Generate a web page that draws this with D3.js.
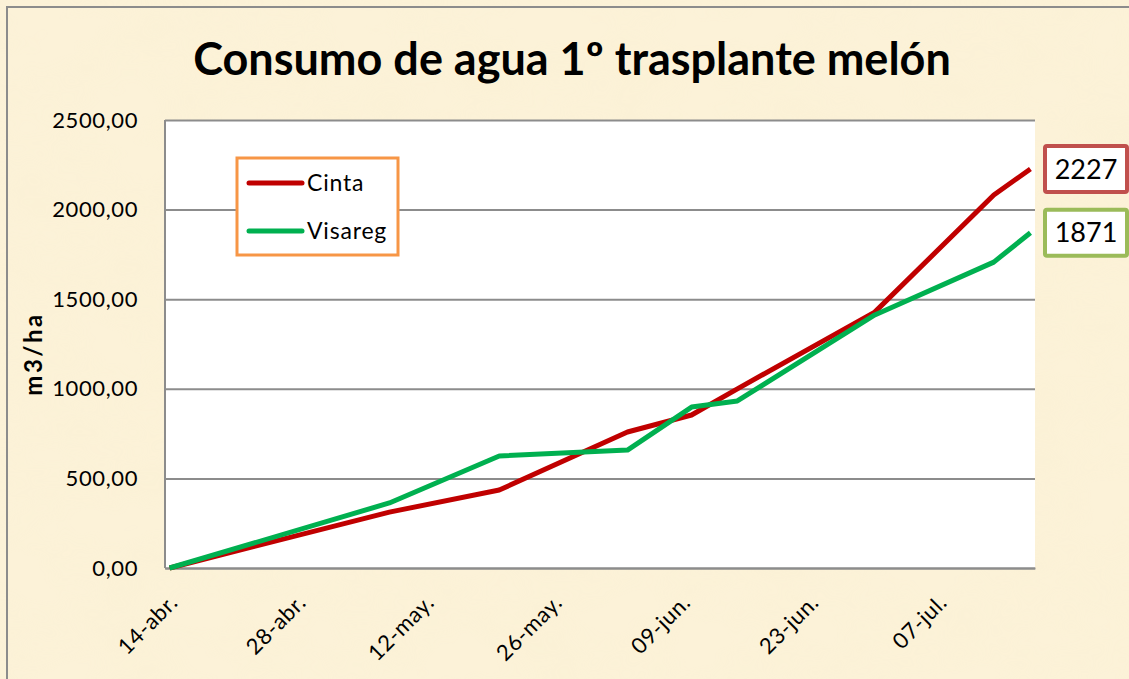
<!DOCTYPE html>
<html>
<head>
<meta charset="utf-8">
<script src="https://cdn.jsdelivr.net/npm/d3@7"></script>
<style>
  body { margin: 0; background: #fbf1d6; }
  text { font-family: Lato, "Liberation Sans", sans-serif; fill: #000; }
</style>
</head>
<body>
<div id="chart"></div>
<script>
// Chart data
var fechas = ["14-04", "08-05", "20-05", "03-06", "10-06", "15-06", "30-06", "13-07", "17-07"];
var cinta = [0, 312, 435, 759, 854, 1000, 1428, 2081, 2227];
var visareg = [0, 363, 625, 658, 898, 932, 1412, 1707, 1871];

var tickFechas = ["14-04", "28-04", "12-05", "26-05", "09-06", "23-06", "07-07"];
var tickLabels = ["14-abr.", "28-abr.", "12-may.", "26-may.", "09-jun.", "23-jun.", "07-jul."];
var yTicks = [0, 500, 1000, 1500, 2000, 2500];

var seriesNames = ["Cinta", "Visareg"];
var seriesColors = ["#c00000", "#00b050"];
var labelBorders = ["#c0504d", "#9bbb59"];

// Set width and height for SVG object
var svgWidth = 1129;
var svgHeight = 679;

var margin = {
  top: 120,
  right: 94,
  bottom: 111,
  left: 165
};

var width = svgWidth - margin.left - margin.right;
var height = svgHeight - margin.top - margin.bottom;

var parseFecha = d3.timeParse("%d-%m");

var svg = d3.select("#chart")
  .append("svg")
  .attr("width", svgWidth)
  .attr("height", svgHeight);

// Parchment background
var defs = svg.append("defs");
var filter = defs.append("filter")
  .attr("id", "paper")
  .attr("x", 0).attr("y", 0).attr("width", "100%").attr("height", "100%");
filter.append("feTurbulence")
  .attr("type", "fractalNoise")
  .attr("baseFrequency", "0.012 0.02")
  .attr("numOctaves", 3)
  .attr("seed", 4)
  .attr("result", "noise");
filter.append("feColorMatrix")
  .attr("type", "matrix")
  .attr("values", "0 0 0 0 0.93  0 0 0 0 0.85  0 0 0 0 0.62  0 0 0 0.55 -0.18");

svg.append("rect")
  .attr("width", svgWidth)
  .attr("height", svgHeight)
  .attr("fill", "#fcf2d8");

svg.append("rect")
  .attr("width", svgWidth)
  .attr("height", svgHeight)
  .attr("filter", "url(#paper)")
  .attr("opacity", 0.6);

// Outer chart border
svg.append("rect")
  .attr("x", 7)
  .attr("y", 7)
  .attr("width", svgWidth + 20)
  .attr("height", svgHeight + 20)
  .attr("fill", "none")
  .attr("stroke", "#8c8c8c")
  .attr("stroke-width", 2);

// Title
svg.append("text")
  .attr("x", 572)
  .attr("y", 75)
  .attr("text-anchor", "middle")
  .attr("font-size", "45px")
  .attr("font-weight", "bold")
  .text("Consumo de agua 1º trasplante melón");

// Y axis title
svg.append("text")
  .attr("transform", "translate(42, 354) rotate(-90)")
  .attr("text-anchor", "middle")
  .attr("font-size", "24px")
  .attr("letter-spacing", "2.5px")
  .attr("font-weight", "bold")
  .text("m3/ha");

var chartGroup = svg.append("g")
  .attr("transform", `translate(${margin.left}, ${margin.top})`);

chartGroup.append("rect")
  .attr("width", width)
  .attr("height", height)
  .attr("fill", "#fff");

// Scales
var start = d3.timeHour.offset(parseFecha(fechas[0]), -12);
var end = d3.timeHour.offset(parseFecha(fechas[fechas.length - 1]), 12);

var xScale = d3.scaleTime()
  .domain([start, end])
  .range([0, width]);

var yScale = d3.scaleLinear()
  .domain([0, 2500])
  .range([height, 0]);

// Gridlines + y labels
var leftAxis = d3.axisLeft(yScale)
  .tickValues(yTicks)
  .tickSize(-width)
  .tickPadding(27)
  .tickFormat(d => d3.format(".2f")(d).replace(".", ","));

var yAxisG = chartGroup.append("g").call(leftAxis);
yAxisG.select(".domain").remove();
yAxisG.selectAll("line")
  .attr("stroke", "#8c8c8c")
  .attr("stroke-width", 2);
yAxisG.selectAll("text")
  .attr("font-size", "22px")
  .attr("letter-spacing", "0.6px")
  .attr("font-family", "Lato, sans-serif")
  .attr("fill", "#000");

// Axis lines
chartGroup.append("line")
  .attr("x1", 0).attr("x2", 0)
  .attr("y1", 0).attr("y2", height)
  .attr("stroke", "#8c8c8c")
  .attr("stroke-width", 2);

// X axis labels
var bottomAxis = d3.axisBottom(xScale)
  .tickValues(tickFechas.map(parseFecha))
  .tickSize(0)
  .tickFormat((d, i) => tickLabels[i]);

var xAxisG = chartGroup.append("g")
  .attr("transform", `translate(0, ${height})`)
  .call(bottomAxis);
xAxisG.select(".domain")
  .attr("stroke", "#8c8c8c")
  .attr("stroke-width", 2);
xAxisG.selectAll("text")
  .attr("font-size", "22px")
  .attr("letter-spacing", "0.6px")
  .attr("font-family", "Lato, sans-serif")
  .attr("fill", "#000")
  .attr("text-anchor", "end")
  .attr("dy", 0)
  .attr("y", 0)
  .attr("transform", "translate(9, 36) rotate(-45)");

// Lines
var seriesData = [cinta, visareg];
var line = d3.line()
  .x((d, i) => xScale(parseFecha(fechas[i])))
  .y(d => yScale(d));

chartGroup.selectAll(".serie")
  .data(seriesData)
  .enter()
  .append("path")
  .attr("class", "serie")
  .attr("d", d => line(d))
  .attr("fill", "none")
  .attr("stroke", (d, i) => seriesColors[i])
  .attr("stroke-width", 5)
  .attr("stroke-linejoin", "round");

// Legend
var legend = svg.append("g")
  .attr("transform", "translate(237, 158)");

legend.append("rect")
  .attr("width", 161)
  .attr("height", 97)
  .attr("fill", "#fff")
  .attr("stroke", "#f79646")
  .attr("stroke-width", 3);

var legendItem = legend.selectAll(".item")
  .data(seriesNames)
  .enter()
  .append("g")
  .attr("transform", (d, i) => `translate(12, ${25 + i * 48})`);

legendItem.append("line")
  .attr("x1", 0).attr("x2", 53)
  .attr("stroke", (d, i) => seriesColors[i])
  .attr("stroke-width", 5)
  .attr("stroke-linecap", "round");

legendItem.append("text")
  .attr("x", 58)
  .attr("dy", "0.35em")
  .attr("font-size", "23px")
  .attr("letter-spacing", "0.8px")
  .text(d => d);

// Final value labels
var lastLabels = svg.selectAll(".last")
  .data(seriesData)
  .enter()
  .append("g")
  .attr("transform", d => `translate(1045, ${margin.top + yScale(d[d.length - 1])})`);

lastLabels.append("rect")
  .attr("x", 0)
  .attr("y", -23)
  .attr("width", 82)
  .attr("height", 46)
  .attr("rx", 2)
  .attr("fill", "#fff")
  .attr("stroke", (d, i) => labelBorders[i])
  .attr("stroke-width", 4);

lastLabels.append("text")
  .attr("x", 41)
  .attr("dy", "0.36em")
  .attr("text-anchor", "middle")
  .attr("font-size", "27px")
  .text(d => d[d.length - 1]);
</script>
</body>
</html>
